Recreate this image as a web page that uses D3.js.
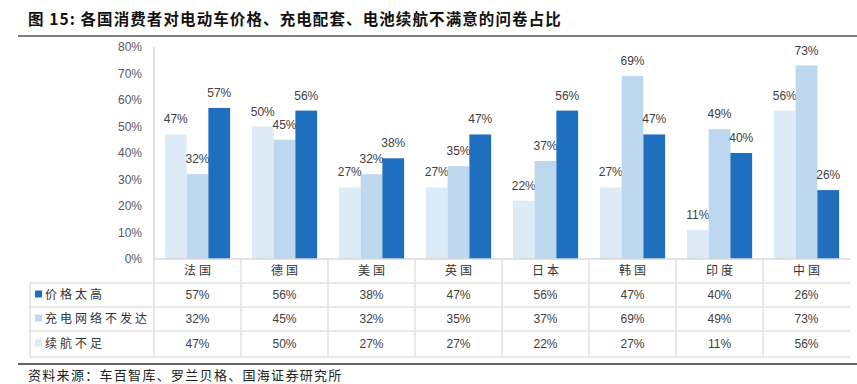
<!DOCTYPE html>
<html>
<head>
<meta charset="utf-8">
<script src="https://d3js.org/d3.v7.min.js"></script>
<style>
  body { margin: 0; background: #fff; }
  text { font-family: Arial, "Liberation Sans", "Noto Sans CJK SC", sans-serif; }
  .cjk { font-family: "Noto Sans CJK SC", sans-serif; }
</style>
</head>
<body>
<div id="chart"></div>
<script>
// data
var countries = ["法国", "德国", "美国", "英国", "日本", "韩国", "印度", "中国"];
var seriesNames = ["续航不足", "充电网络不发达", "价格太高"];
var rangeShort = [47, 50, 27, 27, 22, 27, 11, 56];   // 续航不足
var chargeNet = [32, 45, 32, 35, 37, 69, 49, 73];    // 充电网络不发达
var priceHigh = [57, 56, 38, 47, 56, 47, 40, 26];    // 价格太高
var yTicks = [0, 10, 20, 30, 40, 50, 60, 70, 80];
var colors = ["#DDEBF7", "#BDD7EE", "#1F6FBF"];

var series = [rangeShort, chargeNet, priceHigh];

const width = 857, height = 384;
const plot = {left: 154, right: 850, top: 47, bottom: 259};

const svg = d3.select("#chart").append("svg")
    .attr("width", width)
    .attr("height", height);

// title
svg.append("text")
    .attr("class", "cjk")
    .attr("x", 28).attr("y", 25)
    .attr("font-size", 15.5)
    .attr("font-weight", "bold")
    .attr("letter-spacing", 1.1)
    .attr("fill", "#111")
    .text("图 15: 各国消费者对电动车价格、充电配套、电池续航不满意的问卷占比");

svg.append("line")
    .attr("x1", 18).attr("x2", 857)
    .attr("y1", 36).attr("y2", 36)
    .attr("stroke", "#555").attr("stroke-width", 1.5);

var x = d3.scaleBand()
    .domain(countries)
    .range([plot.left, plot.right])
    .paddingInner(0)
    .paddingOuter(0);

var inner = d3.scaleBand()
    .domain([0, 1, 2])
    .range([0, x.bandwidth()])
    .paddingOuter(0.5)
    .paddingInner(0);

var y = d3.scaleLinear()
    .domain([0, 80])
    .range([plot.bottom, plot.top]);

// y axis
svg.append("line")
    .attr("x1", plot.left).attr("x2", plot.left)
    .attr("y1", plot.top).attr("y2", plot.bottom)
    .attr("stroke", "#bfbfbf");

svg.selectAll(".ytick")
    .data(yTicks)
    .enter().append("text")
    .attr("class", "ytick")
    .attr("x", 142)
    .attr("y", d => y(d))
    .attr("dy", "0.35em")
    .attr("text-anchor", "end")
    .attr("font-size", 12)
    .attr("fill", "#595959")
    .text(d => d + "%");

// bars
series.forEach(function(vals, s) {
    var g = svg.append("g");
    g.selectAll("rect")
        .data(vals)
        .enter().append("rect")
        .attr("x", (d, i) => x(countries[i]) + inner(s))
        .attr("y", d => y(d))
        .attr("width", inner.bandwidth())
        .attr("height", d => plot.bottom - y(d))
        .attr("fill", colors[s]);
    g.selectAll("text")
        .data(vals)
        .enter().append("text")
        .attr("x", (d, i) => x(countries[i]) + inner(s) + inner.bandwidth() / 2)
        .attr("y", d => y(d) - 11)
        .attr("text-anchor", "middle")
        .attr("font-size", 12)
        .attr("fill", "#404040")
        .text(d => d + "%");
});

// data table
const tableLeft = 30;
const rowY = [259, 283, 307, 331, 357];
var gridColor = "#e0e0e0";

// x-axis / header top line
svg.append("line")
    .attr("x1", plot.left).attr("x2", plot.right)
    .attr("y1", rowY[0]).attr("y2", rowY[0])
    .attr("stroke", "#d9d9d9").attr("stroke-width", 1.5);

rowY.slice(1).forEach(function(yy) {
    svg.append("line")
        .attr("x1", tableLeft).attr("x2", plot.right)
        .attr("y1", yy).attr("y2", yy)
        .attr("stroke", gridColor).attr("stroke-width", 1.5);
});

// vertical separators
svg.selectAll(".vsep")
    .data(countries)
    .enter().append("line")
    .attr("x1", d => x(d)).attr("x2", d => x(d))
    .attr("y1", rowY[0]).attr("y2", rowY[4])
    .attr("stroke", gridColor).attr("stroke-width", 1.5);

svg.append("line")
    .attr("x1", tableLeft).attr("x2", tableLeft)
    .attr("y1", rowY[1]).attr("y2", rowY[4])
    .attr("stroke", gridColor).attr("stroke-width", 1.5);

// header: country names
svg.selectAll(".cname")
    .data(countries)
    .enter().append("text")
    .attr("class", "cjk")
    .attr("x", d => x(d) + x.bandwidth() / 2 + 1.5)
    .attr("y", (rowY[0] + rowY[1]) / 2)
    .attr("dy", "0.35em")
    .attr("text-anchor", "middle")
    .attr("font-size", 12)
    .attr("letter-spacing", 3)
    .attr("fill", "#333")
    .text(d => d);

// table rows: price, charging, range (top to bottom)
var tableRows = [
    {name: seriesNames[2], vals: priceHigh, color: colors[2]},
    {name: seriesNames[1], vals: chargeNet, color: colors[1]},
    {name: seriesNames[0], vals: rangeShort, color: colors[0]}
];

tableRows.forEach(function(r, i) {
    var cy = (rowY[i + 1] + rowY[i + 2]) / 2;
    svg.append("rect")
        .attr("x", 35).attr("y", cy - 4.5)
        .attr("width", 7).attr("height", 7)
        .attr("fill", r.color);
    svg.append("text")
        .attr("class", "cjk")
        .attr("x", 45).attr("y", cy)
        .attr("dy", "0.35em")
        .attr("font-size", 12)
        .attr("letter-spacing", 3)
        .attr("fill", "#333")
        .text(r.name);
    svg.selectAll(null)
        .data(r.vals)
        .enter().append("text")
        .attr("x", (d, j) => x(countries[j]) + x.bandwidth() / 2)
        .attr("y", cy)
        .attr("dy", "0.35em")
        .attr("text-anchor", "middle")
        .attr("font-size", 12)
        .attr("fill", "#404040")
        .text(d => d + "%");
});

// bottom rule and source
svg.append("line")
    .attr("x1", 18).attr("x2", 857)
    .attr("y1", 364).attr("y2", 364)
    .attr("stroke", "#333").attr("stroke-width", 1.5);

svg.append("text")
    .attr("class", "cjk")
    .attr("x", 28).attr("y", 380)
    .attr("font-size", 13)
    .attr("letter-spacing", 1.3)
    .attr("fill", "#222")
    .text("资料来源：车百智库、罗兰贝格、国海证券研究所");
</script>
</body>
</html>
